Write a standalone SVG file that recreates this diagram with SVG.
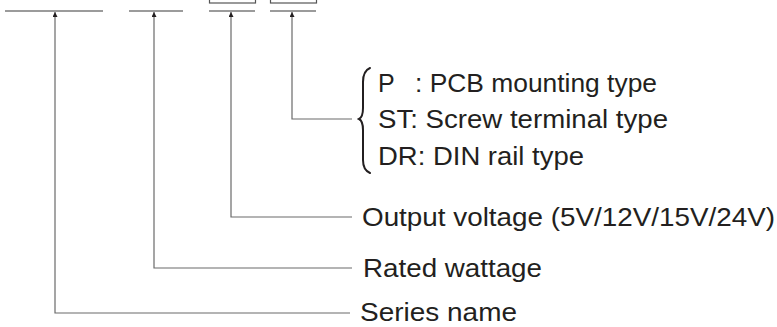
<svg xmlns="http://www.w3.org/2000/svg" width="777" height="327" viewBox="0 0 777 327">
<defs>
<style>
.bar{stroke:#7a7a7a;stroke-width:1.5;fill:none}
.box{stroke:#555;stroke-width:1.2;fill:#fff}
.conn{stroke:#6a6a6a;stroke-width:1.2;fill:none}
.brace{stroke:#231f20;stroke-width:2;fill:none;stroke-linecap:round}
text{font-family:"Liberation Sans",Arial,sans-serif;font-size:25px;fill:#231f20}
</style>
<marker id="arr" viewBox="0 0 10 10" refX="10" refY="5" markerWidth="11" markerHeight="5" markerUnits="userSpaceOnUse" orient="auto">
<path d="M0,0 L10,5 L0,10 z" fill="#231f20"/>
</marker>
</defs>
<rect width="777" height="327" fill="#fff"/>
<g id="slots">
<line class="bar" x1="5" y1="11" x2="103" y2="11"/>
<line class="bar" x1="129" y1="11" x2="183" y2="11"/>
<line class="bar" x1="209" y1="11" x2="255" y2="11"/>
<line class="bar" x1="270" y1="11" x2="316" y2="11"/>
<rect class="box" x="209.5" y="-6" width="46" height="9"/>
<rect class="box" x="270.5" y="-6" width="46" height="9"/>
</g>
<g id="connectors">
<path class="conn" d="M350,313 H55 V12" marker-end="url(#arr)"/>
<path class="conn" d="M352,268 H154 V12" marker-end="url(#arr)"/>
<path class="conn" d="M352,217 H231 V12" marker-end="url(#arr)"/>
<path class="conn" d="M352,119 H292 V12" marker-end="url(#arr)"/>
</g>
<g id="mounting">
<path class="brace" d="M370,68 Q363,71 363,82 V108 Q363,117 359,119 Q363,121 363,130 V160 Q363,170 370,173"/>
<text x="378" y="92">P</text>
<text x="415" y="92" textLength="242" lengthAdjust="spacingAndGlyphs">: PCB mounting type</text>
<text x="378" y="128" textLength="290" lengthAdjust="spacingAndGlyphs">ST: Screw terminal type</text>
<text x="378" y="165" textLength="206" lengthAdjust="spacingAndGlyphs">DR: DIN rail type</text>
</g>
<g id="output">
<text x="362" y="226" textLength="413" lengthAdjust="spacingAndGlyphs">Output voltage (5V/12V/15V/24V)</text>
</g>
<g id="rated">
<text x="363" y="277" textLength="179" lengthAdjust="spacingAndGlyphs">Rated wattage</text>
</g>
<g id="series">
<text x="360" y="321" textLength="157" lengthAdjust="spacingAndGlyphs">Series name</text>
</g>
</svg>
